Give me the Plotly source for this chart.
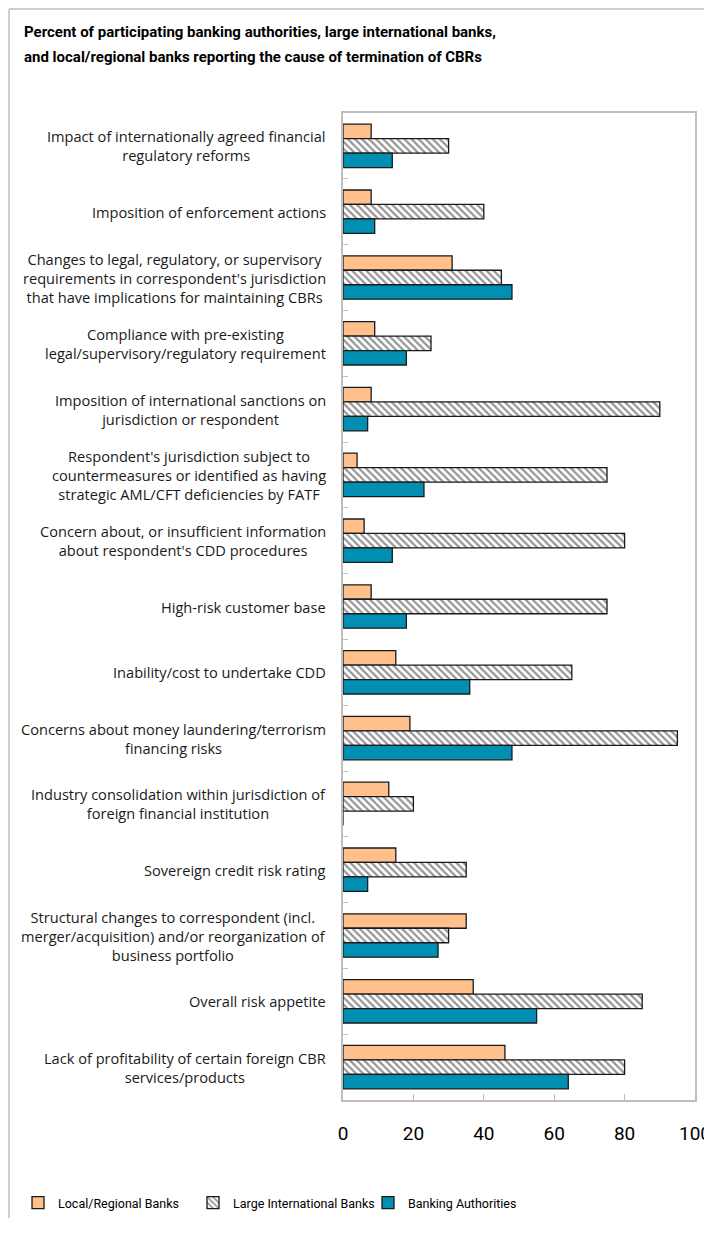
import plotly.graph_objects as go

categories = [
    "Impact of internationally agreed financial<br>regulatory reforms",
    "Imposition of enforcement actions",
    "Changes to legal, regulatory, or supervisory<br>requirements in correspondent's jurisdiction<br>that have implications for maintaining CBRs",
    "Compliance with pre-existing<br>legal/supervisory/regulatory requirement",
    "Imposition of international sanctions on<br>jurisdiction or respondent",
    "Respondent's jurisdiction subject to<br>countermeasures or identified as having<br>strategic AML/CFT deficiencies by FATF",
    "Concern about, or insufficient information<br>about respondent's CDD procedures",
    "High-risk customer base",
    "Inability/cost to undertake CDD",
    "Concerns about money laundering/terrorism<br>financing risks",
    "Industry consolidation within jurisdiction of<br>foreign financial institution",
    "Sovereign credit risk rating",
    "Structural changes to correspondent (incl.<br>merger/acquisition) and/or reorganization of<br>business portfolio",
    "Overall risk appetite",
    "Lack of profitability of certain foreign CBR<br>services/products",
]
local_regional = [8, 8, 31, 9, 8, 4, 6, 8, 15, 19, 13, 15, 35, 37, 46]
large_international = [30, 40, 45, 25, 90, 75, 80, 75, 65, 95, 20, 35, 30, 85, 80]
banking_authorities = [14, 9, 48, 18, 7, 23, 14, 18, 36, 48, 0, 7, 27, 55, 64]
x_ticks = [0, 20, 40, 60, 80, 100]

title_lines = [
    "Percent of participating banking authorities, large international banks,",
    "and local/regional banks reporting the cause of termination of CBRs",
]

# page has an 8px body margin: figure coords = page coords - 8
OFF = 8
W, H = 704, 1210
L, R, T = 343 - OFF, 704 - (695 - OFF), 113 - OFF
B = H - (1100 - OFF)
PW, PH = W - L - R, H - T - B

def px(xp):
    return (xp - OFF - L) / PW

def py(yp):
    return (H - B - (yp - OFF)) / PH

cat_ids = list(range(len(categories)))
sans = "Roboto, sans-serif"
outline = dict(color="#1a1a1a", width=1.3)

fig = go.Figure()
fig.add_trace(go.Bar(
    y=cat_ids, x=local_regional, orientation="h", name="Local/Regional Banks",
    marker=dict(color="#FFC08C", line=outline),
))
fig.add_trace(go.Bar(
    y=cat_ids, x=large_international, orientation="h", name="Large International Banks",
    marker=dict(color="white", line=outline,
                pattern=dict(shape="\\", fgcolor="#2a2a2a", bgcolor="white", size=5, solidity=0.45)),
))
fig.add_trace(go.Bar(
    y=cat_ids, x=banking_authorities, orientation="h", name="Banking Authorities",
    marker=dict(color="#008FB3", line=outline),
))

annotations = []
for i, c in enumerate(categories):
    annotations.append(dict(
        x=0, xref="paper", y=i, yref="y", text=c, showarrow=False,
        xanchor="right", yanchor="middle", align="center", xshift=-15,
        font=dict(family="Open Sans, sans-serif", size=14.6, color="#1a1a1a"),
    ))
for k, line in enumerate(title_lines):
    annotations.append(dict(
        x=px(22), xref="paper", y=py(32 + 25 * k), yref="paper", text="<b>" + line + "</b>",
        showarrow=False, xanchor="left", yanchor="middle", align="left",
        font=dict(family=sans, size=15, color="black"),
    ))

shapes = [
    dict(type="line", xref="paper", yref="paper", x0=px(9), x1=px(720), y0=py(9), y1=py(9),
         line=dict(color="#BFBFBF", width=1.5)),
    dict(type="line", xref="paper", yref="paper", x0=px(9), x1=px(9), y0=py(9), y1=py(1240),
         line=dict(color="#BFBFBF", width=1.5)),
]

fig.update_layout(
    width=W, height=H,
    margin=dict(l=L, r=R, t=T, b=B, autoexpand=False),
    paper_bgcolor="white", plot_bgcolor="white",
    barmode="group", bargap=0.34, bargroupgap=0,
    showlegend=True,
    legend=dict(orientation="h", x=px(18), y=py(1203), xanchor="left", yanchor="middle",
                font=dict(family=sans, size=12.5, color="black"),
                entrywidth=130, entrywidthmode="pixels", itemwidth=30,
                traceorder="normal"),
    annotations=annotations, shapes=shapes,
)
fig.update_xaxes(
    range=[0, 100], tickvals=x_ticks, ticktext=[str(v) for v in x_ticks],
    ticks="inside", ticklen=6, tickcolor="#BFBFBF", tickwidth=1,
    showgrid=False, zeroline=False,
    showline=True, linecolor="#BFBFBF", linewidth=1.5, mirror=True,
    tickfont=dict(family=sans, size=19, color="black"),
    ticklabelstandoff=15, ticklabeloverflow="allow",
)
fig.update_yaxes(
    type="category", autorange="reversed", tickmode="array", tickvals=cat_ids,
    showticklabels=False, ticks="inside", ticklen=5, tickcolor="#BFBFBF",
    tickson="boundaries", showgrid=False, zeroline=False,
    showline=True, linecolor="#BFBFBF", linewidth=1.5, mirror=True,
)

fig.write_html("out.html")
